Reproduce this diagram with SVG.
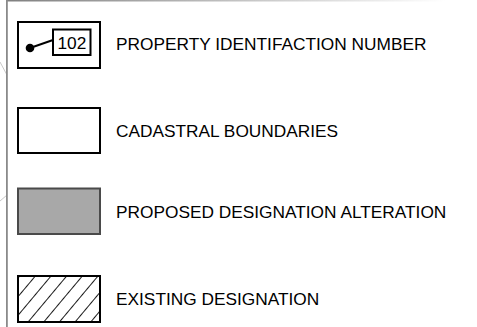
<svg xmlns="http://www.w3.org/2000/svg" width="477" height="327" viewBox="0 0 477 327">
<defs>
<linearGradient id="topfade" x1="0" y1="0" x2="1" y2="0">
<stop offset="0" stop-color="#808080"/>
<stop offset="1" stop-color="#ffffff"/>
</linearGradient>
<pattern id="hatch" patternUnits="userSpaceOnUse" width="12" height="12" patternTransform="rotate(40)">
<line x1="0" y1="0" x2="0" y2="12" stroke="#000" stroke-width="1.8"/>
</pattern>
<clipPath id="hclip"><rect x="18" y="276" width="82" height="46"/></clipPath>
</defs>
<style>
.box{fill:#fff;stroke:#000;stroke-width:2}
.lbl{font-family:"Liberation Sans",Arial,sans-serif;font-size:17.3px;fill:#000}
.bg{stroke:#c8c8c8;stroke-width:1;fill:none}
</style>
<g id="frame">
<line class="bg" x1="0" y1="62" x2="7" y2="75"/>
<line class="bg" x1="0" y1="201" x2="7" y2="195"/>
<rect x="6" y="0" width="440" height="1.5" fill="url(#topfade)"/>
<rect x="6" y="0" width="1.8" height="327" fill="#8a8a8a"/>
</g>
<g id="legend-pin">
<rect class="box" x="18" y="22" width="82" height="46"/>
<rect class="box" x="53" y="29.5" width="37.5" height="25.5"/>
<line x1="30" y1="48" x2="53" y2="40" stroke="#000" stroke-width="2"/>
<circle cx="30" cy="48" r="4.3" fill="#000"/>
<text class="lbl" x="57.5" y="48.5">102</text>
<text class="lbl" x="116" y="50">PROPERTY IDENTIFACTION NUMBER</text>
</g>
<g id="legend-cadastral">
<rect class="box" x="18" y="108" width="82" height="45"/>
<text class="lbl" x="116" y="136.5">CADASTRAL BOUNDARIES</text>
</g>
<g id="legend-proposed">
<rect x="18" y="188.5" width="82" height="45.5" fill="#a8a8a8" stroke="#4a4a4a" stroke-width="2"/>
<text class="lbl" x="116" y="217.5">PROPOSED DESIGNATION ALTERATION</text>
</g>
<g id="legend-existing">
<rect x="18" y="276" width="82" height="46" fill="url(#hatch)" clip-path="url(#hclip)"/>
<rect class="box" x="18" y="276" width="82" height="46" style="fill:none"/>
<text class="lbl" x="116" y="305">EXISTING DESIGNATION</text>
</g>
<g id="connectors"/>
</svg>
